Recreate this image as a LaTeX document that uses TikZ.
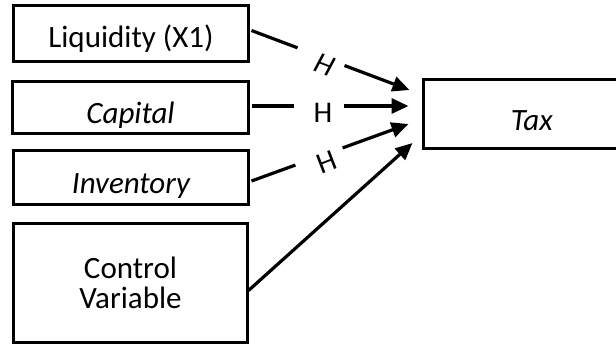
\documentclass[tikz,border=0pt]{standalone}
\usepackage{fontspec}
\setmainfont{Carlito}
\usetikzlibrary{arrows.meta}
\begin{document}
\begin{tikzpicture}[x=1pt,y=-1pt,
  box/.style={draw=black, line width=3.2pt, fill=white, inner sep=0pt, outer sep=0pt, font=\fontsize{31}{30}\selectfont, align=center},
  conn/.style={line width=3.2pt, -{Triangle[length=17pt,width=15pt]}},
  gap/.style={fill=white, inner sep=0pt, minimum width=50pt, minimum height=9pt, sloped},
  hlab/.style={font=\fontsize{30}{30}\selectfont, inner sep=0pt}]
\useasboundingbox (0,0) rectangle (616,348);
\node[box, minimum width=235pt, minimum height=56pt, text height=28pt, text depth=0pt] (liq) at (131,33.5) {Liquidity (X1)};
\node[box, minimum width=236pt, minimum height=52pt, text height=31pt, text depth=0pt] (cap) at (130.5,107.5) {\itshape Capital};
\node[box, minimum width=235pt, minimum height=54pt, text height=31pt, text depth=0pt] (inv) at (131,177.5) {\itshape Inventory};
\node[box, minimum width=234pt, minimum height=119pt] (ctl) at (130.5,283) {Control\\Variable};
\node[box, minimum width=216.5pt, minimum height=69pt, text height=32pt, text depth=0pt] (tax) at (531.75,114) {\itshape Tax};
\draw[conn] ([shift={(3,-3)}]liq.east) -- node[gap, pos=0.44] (g1) {} ([shift={(-14,-24)}]tax.west);
\draw[conn] ([shift={(3,-1.5)}]cap.east) -- node[gap, pos=0.43] (g2) {} ([shift={(-15,-8)}]tax.west);
\draw[conn] ([shift={(3,3.5)}]inv.east) -- node[gap, pos=0.43] (g3) {} ([shift={(-15,10)}]tax.west);
\draw[conn] ([shift={(1,7.5)}]ctl.east) -- ([shift={(-11,29)}]tax.west);
\node[hlab, rotate=-21] (h1) at (325,65) {\itshape H};
\node[hlab] (h2) at (323,113) {H};
\node[hlab, rotate=21] (h3) at (327,162) {H};
\end{tikzpicture}
\end{document}
